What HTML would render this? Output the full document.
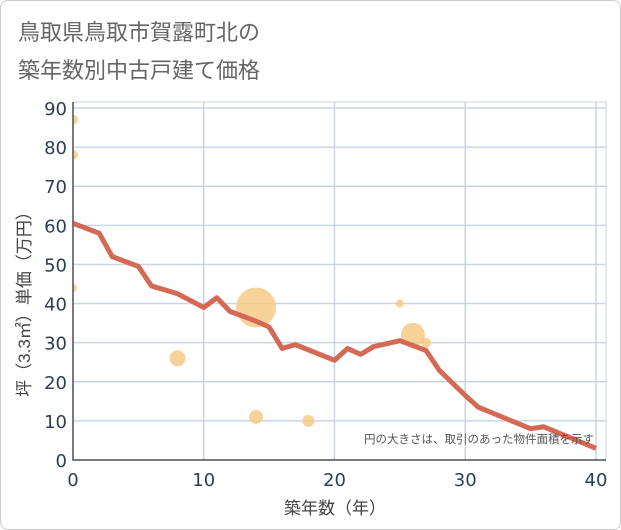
<!DOCTYPE html>
<html><head><meta charset="utf-8"><style>
body{margin:0;background:#fff;font-family:"Liberation Sans","Noto Sans CJK JP",sans-serif}
#card{position:absolute;left:0;top:0;width:619px;height:528px;border:1px solid #ccc;border-radius:8px;background:#fff}
</style></head><body>
<div id="card"></div>
<svg id="c" width="621" height="530" style="position:absolute;left:0;top:0">
<defs><clipPath id="pc"><rect x="73" y="102" width="533" height="358"/></clipPath></defs>
<text x="18" y="40" font-size="22" fill="#666">鳥取県鳥取市賀露町北の</text>
<text x="18" y="78" font-size="22" fill="#666">築年数別中古戸建て価格</text>
<g id="grid"></g><g id="bubbles" clip-path="url(#pc)"></g><g id="line" clip-path="url(#pc)"></g><g id="axes"></g>
<text x="335" y="514" font-size="17" fill="#444" text-anchor="middle">築年数（年）</text>
<text transform="translate(30,300) rotate(-90)" font-size="17" fill="#444" text-anchor="middle">坪（3.3㎡）単価（万円）</text>
<text x="594" y="443" font-size="11.5" fill="#555" text-anchor="end">円の大きさは、取引のあった物件面積を示す</text>
</svg>
<script>
const xTicks=[0,10,20,30,40];
const yTicks=[0,10,20,30,40,50,60,70,80,90];
const lineAges=[0,2,3,5,6,8,10,11,12,14,15,16,17,20,21,22,23,25,27,28,30,31,35,36,40];
const linePrices=[60.5,58,52,49.5,44.5,42.5,39,41.5,38,35.5,34,28.5,29.5,25.5,28.5,27,29,30.5,28,23,16.5,13.5,8,8.5,3];
const bubbleAges=[0,0,0,8,14,14,18,25,26,27];
const bubblePrices=[87,78,44,26,39,11,10,40,32,30];
const bubbleSizes=[5,5,4,8,20,7,6,4,12,5];
const X0=73,X1=596,Y0=460,Y1=108;
const sx=v=>X0+(v-0)/40*(X1-X0);
const sy=v=>Y0-v/90*(Y0-Y1);
const NS="http://www.w3.org/2000/svg";
function mk(tag,attrs,parent){const e=document.createElementNS(NS,tag);for(const k in attrs)e.setAttribute(k,attrs[k]);document.getElementById(parent).appendChild(e);return e;}
mk('rect',{x:X0,y:102,width:533,height:Y0-102,fill:'none',stroke:'#c8d6e4'},'grid');
yTicks.forEach(t=>{const l=mk('line',{x1:X0,x2:606,y1:sy(t),y2:sy(t),stroke:'#c8d6e4','stroke-width':1.5},'grid');


const tx=mk('text',{x:67,y:sy(t)+7,'font-size':18,fill:'#2c3e55','text-anchor':'end','font-family':'DejaVu Sans, sans-serif'},'axes');tx.textContent=t;

});
xTicks.forEach(t=>{const l=mk('line',{x1:sx(t),x2:sx(t),y1:102,y2:Y0,stroke:'#c8d6e4','stroke-width':1.5},'grid');


const tx=mk('text',{x:sx(t),y:486,'font-size':18,fill:'#2c3e55','text-anchor':'middle','font-family':'DejaVu Sans, sans-serif'},'axes');tx.textContent=t;

});
const ax=mk('path',{d:`M${X0} 102V${Y0}H606`,stroke:'#555','stroke-width':1.5,fill:'none'},'axes');


bubbleAges.forEach((a,i)=>{const c=mk('circle',{cx:sx(a),cy:sy(bubblePrices[i]),r:bubbleSizes[i],fill:'#f5c880','fill-opacity':0.8},'bubbles');

});
const p=mk('polyline',{points:lineAges.map((a,i)=>sx(a)+','+sy(linePrices[i])).join(' '),fill:'none',stroke:'#d46a55','stroke-width':5,'stroke-linejoin':'round'},'line');


</script>
</body></html>
